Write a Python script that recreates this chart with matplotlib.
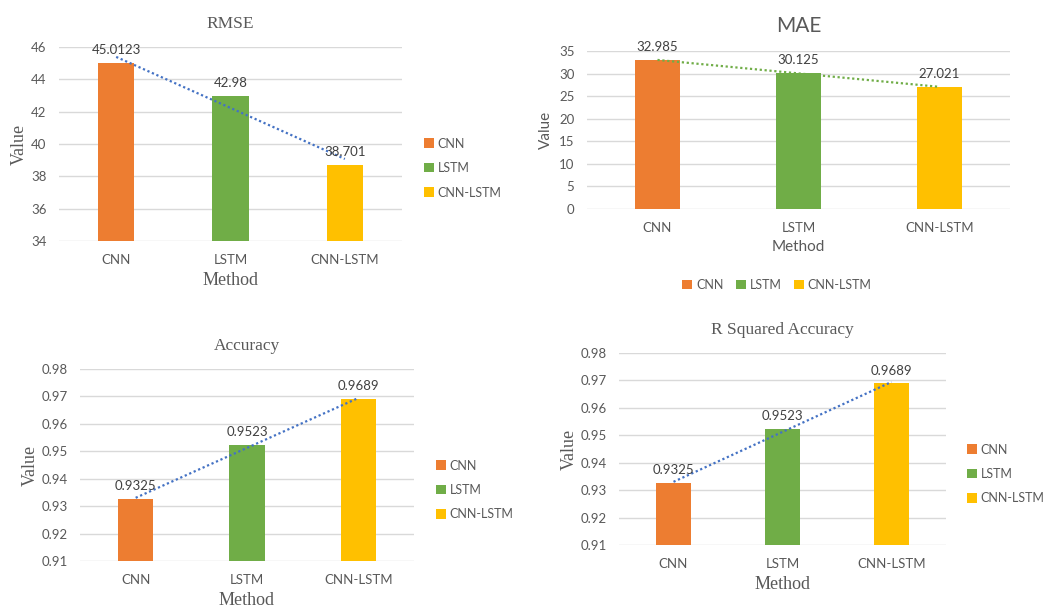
import numpy as np
import matplotlib
matplotlib.use('Agg')
import matplotlib.pyplot as plt
from matplotlib.patches import Patch

methods = ['CNN', 'LSTM', 'CNN-LSTM']
rmse = [45.0123, 42.98, 38.701]
mae = [32.985, 30.125, 27.021]
accuracy = [0.9325, 0.9523, 0.9689]
r2_accuracy = [0.9325, 0.9523, 0.9689]

rmse_ticks = [34, 36, 38, 40, 42, 44, 46]
mae_ticks = [0, 5, 10, 15, 20, 25, 30, 35]
acc_ticks = [0.91, 0.92, 0.93, 0.94, 0.95, 0.96, 0.97, 0.98]

colors = ['#ED7D31', '#70AD47', '#FFC000']
sans = ['Lato', 'DejaVu Sans']
serif = ['Liberation Serif', 'DejaVu Serif']
gray = '#595959'


def panel(ax, vals, ticks, title, trend_color, tfont, tick_fmt,
          bar_w=0.32, title_size=12.5, label_size=13, ypad=2):
    x = np.arange(len(methods))
    ax.bar(x, np.array(vals) - ticks[0], bottom=ticks[0], width=bar_w,
           color=colors, zorder=3)
    ax.set_xlim(-0.5, len(methods) - 0.5)
    ax.set_ylim(ticks[0], ticks[-1])
    ax.set_yticks(ticks)
    ax.set_yticklabels([tick_fmt.format(t) for t in ticks], family=sans,
                       fontsize=9.5, color=gray)
    ax.set_xticks(x)
    ax.set_xticklabels(methods, family=sans, fontsize=9.5, color=gray)
    ax.tick_params(length=0, pad=9)
    ax.tick_params(axis='y', pad=9)
    ax.grid(axis='y', color='#D9D9D9', linewidth=1, zorder=0)
    ax.set_axisbelow(True)
    for s in ax.spines.values():
        s.set_visible(False)
    # linear trendline
    k, b = np.polyfit(x, vals, 1)
    ax.plot(x[[0, -1]], k * x[[0, -1]] + b, linestyle=(0, (1, 1.2)),
            color=trend_color, linewidth=1.6, zorder=4, clip_on=False)
    for xi, v in zip(x, vals):
        ax.annotate('{:g}'.format(v), (xi, v), xytext=(0, 5),
                    textcoords='offset points', ha='center', va='bottom',
                    family=sans, fontsize=9.5, color='#404040', zorder=5)
    ax.set_title(title, family=tfont, fontsize=title_size, color=gray, pad=14)
    ax.set_xlabel('Method', family=tfont, fontsize=label_size, color=gray,
                  labelpad=5)
    ax.set_ylabel('Value', family=tfont, fontsize=label_size, color=gray,
                  labelpad=ypad)


fig = plt.figure(figsize=(10.54, 6.08), dpi=100)

ax1 = fig.add_axes([0.056, 0.6036, 0.3254, 0.3191])
panel(ax1, rmse, rmse_ticks, 'RMSE', '#4472C4', serif, '{:g}')

ax2 = fig.add_axes([0.5569, 0.6562, 0.4013, 0.2599])
panel(ax2, mae, mae_ticks, 'MAE', '#70AD47', sans, '{:g}',
      title_size=15, label_size=11, ypad=4)

ax3 = fig.add_axes([0.0759, 0.0773, 0.3169, 0.3158])
panel(ax3, accuracy, acc_ticks, 'Accuracy', '#4472C4', serif, '{:.2f}')

ax4 = fig.add_axes([0.5873, 0.1036, 0.3102, 0.3158])
panel(ax4, r2_accuracy, acc_ticks, 'R Squared Accuracy', '#4472C4', serif,
      '{:.2f}')

handles = [Patch(facecolor=c, label=m) for c, m in zip(colors, methods)]
leg_kw = dict(frameon=False, handlelength=0.8, handleheight=0.8,
              handletextpad=0.3, borderpad=0, borderaxespad=0,
              prop={'family': sans, 'size': 9})

for ax, anchor in [(ax1, (424 / 1054, 1 - 168 / 608)),
                   (ax3, (436 / 1054, 1 - 490 / 608)),
                   (ax4, (967 / 1054, 1 - 474 / 608))]:
    leg = ax.legend(handles=handles, loc='center left', bbox_to_anchor=anchor,
                    bbox_transform=fig.transFigure, labelspacing=1.0, **leg_kw)
    for t in leg.get_texts():
        t.set_color(gray)

leg = ax2.legend(handles=handles, loc='center', ncol=3,
                 bbox_to_anchor=(777 / 1054, 1 - 285 / 608),
                 bbox_transform=fig.transFigure, columnspacing=1.0, **leg_kw)
for t in leg.get_texts():
    t.set_color(gray)

fig.savefig('out.png', dpi=100)
